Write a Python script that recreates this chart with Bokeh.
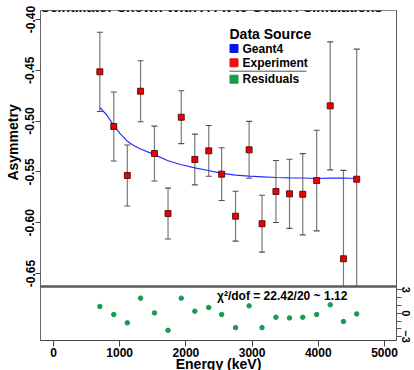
import numpy as np
from bokeh.plotting import figure
from bokeh.models import Range1d, LinearAxis, FixedTicker, Span, Label, NumeralTickFormatter
from bokeh.embed import file_html
from bokeh.resources import INLINE

# ---------------- data ----------------
energy = [700, 910, 1115, 1315, 1525, 1730, 1930, 2135, 2345, 2540,
          2750, 2955, 3150, 3360, 3565, 3765, 3975, 4180, 4380, 4580]
asym = [-0.4515, -0.5053, -0.5535, -0.4706, -0.5319, -0.5910, -0.4962, -0.5378, -0.5293, -0.5522,
        -0.5936, -0.5283, -0.6010, -0.5693, -0.5716, -0.5720, -0.5585, -0.4850, -0.6355, -0.5572]
asym_err = [0.039, 0.034, 0.030, 0.030, 0.027, 0.025, 0.026, 0.025, 0.025, 0.026,
            0.0245, 0.028, 0.028, 0.0305, 0.034, 0.040, 0.0495, 0.063, 0.087, 0.128]
residuals = [0.86, -0.17, -1.24, 1.93, 0.04, -2.19, 1.93, 0.26, 0.73, -0.17,
             -1.85, 0.94, -1.85, -0.52, -0.60, -0.52, -0.17, 1.07, -1.07, -0.09]
sim_energy = [700, 810, 910, 1010, 1110, 1210, 1315, 1525, 1720, 1920, 2135, 2340,
              2545, 2750, 2955, 3160, 3365, 3570, 3770, 3975, 4180, 4380, 4580]
sim_asym = [-0.4865, -0.4945, -0.5045, -0.5125, -0.5195, -0.5240, -0.5275, -0.5330, -0.5388,
            -0.5427, -0.5460, -0.5486, -0.5515, -0.5532, -0.5542, -0.5548, -0.5555, -0.5558,
            -0.5560, -0.5565, -0.5562, -0.5560, -0.5565]
x_ticks = [0, 1000, 2000, 3000, 4000, 5000]
y_ticks = [-0.65, -0.60, -0.55, -0.50, -0.45, -0.40]
res_ticks = [-3, 0, 3]
title_text = "Scintillator Shown With A Fit to Geant4 Simulations"
chi2_text = "\u03c7\u00b2/dof = 22.42/20 ~ 1.12"
x_title = "Energy (keV)"
y_title = "Asymmetry"

# ---------------- pixel helpers (layout only) ----------------
def ex(px):
    return (px - 53) / 0.0662

def ey(py):
    return -0.40 - (py - 19) / 50.8 * 0.05

X0, X1 = ex(40), ex(396)
Y0, Y1 = ey(340), ey(10)
R0, R1 = -(340 - 312.7) / 7.8, (312.7 - 10) / 7.8
SEP = ey(286)

FONT = "Liberation Sans"

p = figure(frame_width=356, frame_height=330,
           x_range=Range1d(X0, X1), y_range=Range1d(Y0, Y1),
           output_backend="svg", toolbar_location=None,
           min_border_left=40, min_border_top=10, min_border_right=18, min_border_bottom=30,
           background_fill_color="white", border_fill_color="white")
p.xgrid.visible = False
p.ygrid.visible = False
p.outline_line_color = "#888888"
p.outline_line_width = 1

# x axis
xa = p.xaxis[0]
xa.ticker = FixedTicker(ticks=x_ticks, minor_ticks=[])
xa.major_tick_out = 6
xa.major_tick_in = 0
xa.major_label_standoff = 1
xa.axis_line_color = "#444444"
xa.major_tick_line_color = "#444444"
xa.major_label_text_font = FONT
xa.major_label_text_font_style = "bold"
xa.major_label_text_font_size = "12px"
xa.major_label_text_color = "black"
xa.axis_label = x_title
xa.axis_label_standoff = -4
xa.axis_label_text_font = FONT
xa.axis_label_text_font_style = "bold"
xa.axis_label_text_font_size = "14px"
xa.axis_label_text_color = "black"

# y axis (main); the label is centred on the upper panel, as in the reference
ya = p.yaxis[0]
ya.ticker = FixedTicker(ticks=y_ticks, minor_ticks=[])
ya.formatter = NumeralTickFormatter(format="0.00")
ya.major_tick_out = 5
ya.major_tick_in = 0
ya.major_label_standoff = 1
ya.major_label_orientation = "parallel"
ya.axis_line_color = "#666666"
ya.major_tick_line_color = "#444444"
ya.major_label_text_font = FONT
ya.major_label_text_font_style = "bold"
ya.major_label_text_font_size = "12px"
ya.major_label_text_color = "black"
ya.axis_label = "\u00a0" * 17 + y_title
ya.axis_label_standoff = 2
ya.axis_label_text_font = FONT
ya.axis_label_text_font_style = "bold"
ya.axis_label_text_font_size = "14px"
ya.axis_label_text_color = "black"

# residual axis (right)
p.extra_y_ranges = {"res": Range1d(R0, R1)}
ra = LinearAxis(y_range_name="res",
                ticker=FixedTicker(ticks=res_ticks, minor_ticks=[-3, -2, -1, 0, 1, 2, 3]))
ra.major_tick_out = 5
ra.major_tick_in = 0
ra.minor_tick_out = 5
ra.minor_tick_in = 0
ra.major_label_standoff = 0
ra.major_label_orientation = "parallel"
ra.axis_line_color = "#555555"
ra.major_tick_line_color = "#555555"
ra.minor_tick_line_color = "#555555"
ra.major_label_text_font = FONT
ra.major_label_text_font_style = "bold"
ra.major_label_text_font_size = "11px"
ra.major_label_text_color = "black"
p.add_layout(ra, "right")

# separator between panels
p.add_layout(Span(location=SEP, dimension="width", line_color="#5a5a5a", line_width=2.5))

# ---------------- main panel ----------------
e = np.array(energy, dtype=float)
a = np.array(asym)
err = np.array(asym_err)
hi = a + err
lo_raw = a - err
lo = np.maximum(lo_raw, SEP)
p.segment(x0=e, y0=lo, x1=e, y1=hi, line_color="#7a7a7a", line_width=1.2)
p.scatter(x=e, y=hi, marker="dash", size=6, line_color="#505050", line_width=1.1)
keep = lo_raw > SEP
p.scatter(x=e[keep], y=lo_raw[keep], marker="dash", size=6, line_color="#505050", line_width=1.1)

p.line(x=sim_energy, y=sim_asym, line_color="#2a2aff", line_width=1.2)
p.scatter(x=e, y=a, marker="square", size=6, fill_color="#ee0000",
          line_color="#3a0000", line_width=0.8)

# ---------------- residual panel ----------------
p.scatter(x=energy, y=residuals, y_range_name="res", marker="circle", size=4.5,
          fill_color="#1a9a50", line_color="#1a9a50")

# ---------------- texts ----------------
def lab(text, px, py, size, baseline="middle", angle=0.0):
    p.add_layout(Label(x=ex(px), y=ey(py), text=text, text_font=FONT,
                       text_font_style="bold", text_font_size=size,
                       text_align="left", text_baseline=baseline, angle=angle,
                       text_color="black"))

lab(title_text, 40, 6, "14px", baseline="alphabetic")
lab(chi2_text, 216.5, 295, "12px")

# legend (drawn by hand)
lab("Data Source", 229, 33, "14px")
leg_y = [48, 62.3, 78.7]
leg_names = ["Geant4", "Experiment", "Residuals"]
leg_colors = ["#0a14ee", "#ee0f0f", "#169a4c"]
p.scatter(x=[ex(233.5)] * 3, y=[ey(v) for v in leg_y], marker="square", size=8,
          fill_color=leg_colors, line_color=leg_colors)
for name, py in zip(leg_names, leg_y):
    lab(name, 242, py, "12px")
p.segment(x0=[ex(229)], y0=[ey(70.7)], x1=[ex(306)], y1=[ey(70.7)],
          line_color="#555555", line_width=1)

open("out.html", "w").write(file_html(p, INLINE))
